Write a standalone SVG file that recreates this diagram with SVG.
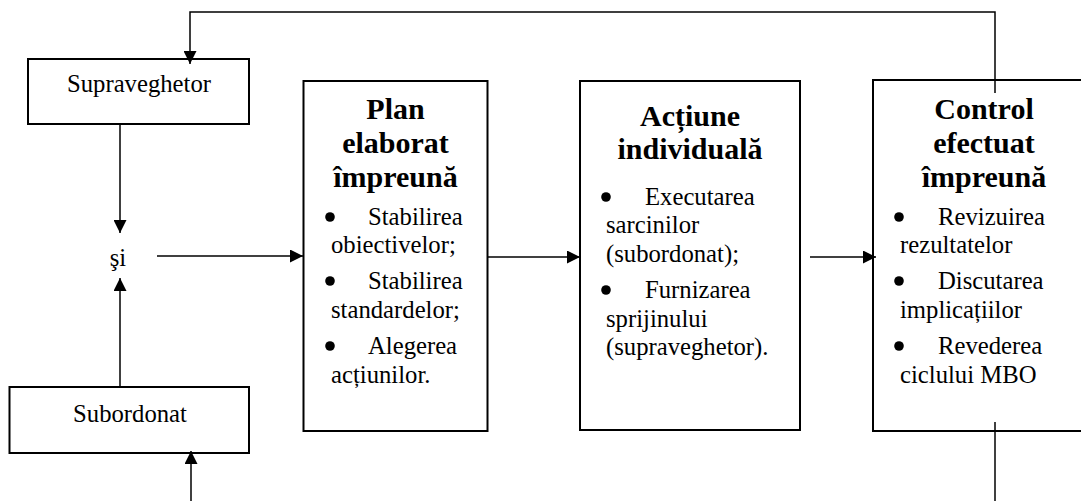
<svg xmlns="http://www.w3.org/2000/svg" width="1081" height="501" viewBox="0 0 1081 501" font-family="'Liberation Serif', 'DejaVu Serif', serif">
<defs>
<marker id="arr" markerUnits="userSpaceOnUse" markerWidth="13" markerHeight="13" refX="13" refY="6.5" orient="auto">
<path d="M0,0 L13,6.5 L0,13 z" fill="#000"/>
</marker>
<style>
.box{fill:#fff;stroke:#000;stroke-width:2}
.t{font-family:'Liberation Serif','DejaVu Serif',serif;font-size:24.7px;fill:#000}
.h{font-family:'Liberation Serif','DejaVu Serif',serif;font-size:30px;font-weight:bold;fill:#000;text-anchor:middle}
.c{text-anchor:middle}
.b{fill:#000}
.ln{fill:none;stroke:#000;stroke-width:1.5}
</style>
</defs>
<rect width="1081" height="501" fill="#fff"/>
<g id="supraveghetor">
<rect class="box" x="28" y="59" width="221" height="65"/>
<text class="t c" x="139" y="92">Supraveghetor</text>
</g>
<g id="si">
<text class="t c" x="118" y="266">şi</text>
</g>
<g id="subordonat">
<rect class="box" x="9.5" y="387" width="239.5" height="66"/>
<text class="t c" x="130" y="422">Subordonat</text>
</g>
<g id="plan">
<rect class="box" x="303.5" y="81" width="184" height="350"/>
<text class="h" x="395.5" y="119">Plan</text>
<text class="h" x="395.5" y="153">elaborat</text>
<text class="h" x="395.5" y="187">împreună</text>
<circle class="b" cx="330" cy="217" r="4.8"/>
<text class="t" x="368" y="225">Stabilirea</text>
<text class="t" x="331" y="253">obiectivelor;</text>
<circle class="b" cx="330" cy="281" r="4.8"/>
<text class="t" x="368" y="289">Stabilirea</text>
<text class="t" x="331" y="318">standardelor;</text>
<circle class="b" cx="330" cy="346" r="4.8"/>
<text class="t" x="368" y="354">Alegerea</text>
<text class="t" x="331" y="383">acțiunilor.</text>
</g>
<g id="actiune">
<rect class="box" x="580" y="81" width="220" height="349"/>
<text class="h" x="690" y="126">Acțiune</text>
<text class="h" x="690" y="159">individuală</text>
<circle class="b" cx="606" cy="197" r="4.8"/>
<text class="t" x="645" y="205">Executarea</text>
<text class="t" x="606" y="233">sarcinilor</text>
<text class="t" x="606" y="262">(subordonat);</text>
<circle class="b" cx="606" cy="290" r="4.8"/>
<text class="t" x="645" y="298">Furnizarea</text>
<text class="t" x="606" y="327">sprijinului</text>
<text class="t" x="606" y="355">(supraveghetor).</text>
</g>
<g id="control">
<rect class="box" x="873" y="80" width="230" height="351"/>
<text class="h" x="984" y="119">Control</text>
<text class="h" x="984" y="153">efectuat</text>
<text class="h" x="984" y="187">împreună</text>
<circle class="b" cx="899" cy="217" r="4.8"/>
<text class="t" x="938" y="225">Revizuirea</text>
<text class="t" x="900" y="253">rezultatelor</text>
<circle class="b" cx="899" cy="281" r="4.8"/>
<text class="t" x="938" y="289">Discutarea</text>
<text class="t" x="900" y="318">implicațiilor</text>
<circle class="b" cx="899" cy="346" r="4.8"/>
<text class="t" x="938" y="354">Revederea</text>
<text class="t" x="900" y="383">ciclului MBO</text>
</g>
<g id="connectors">
<path class="ln" d="M995,93 V12 H190 V64" marker-end="url(#arr)"/>
<path class="ln" d="M120,124 V233" marker-end="url(#arr)"/>
<path class="ln" d="M120,387 V278" marker-end="url(#arr)"/>
<path class="ln" d="M157,256 H303" marker-end="url(#arr)"/>
<path class="ln" d="M488,257 H580" marker-end="url(#arr)"/>
<path class="ln" d="M810,257 H876" marker-end="url(#arr)"/>
<path class="ln" d="M995,422 V501"/>
<path class="ln" d="M191,501 V451" marker-end="url(#arr)"/>
</g>
</svg>
